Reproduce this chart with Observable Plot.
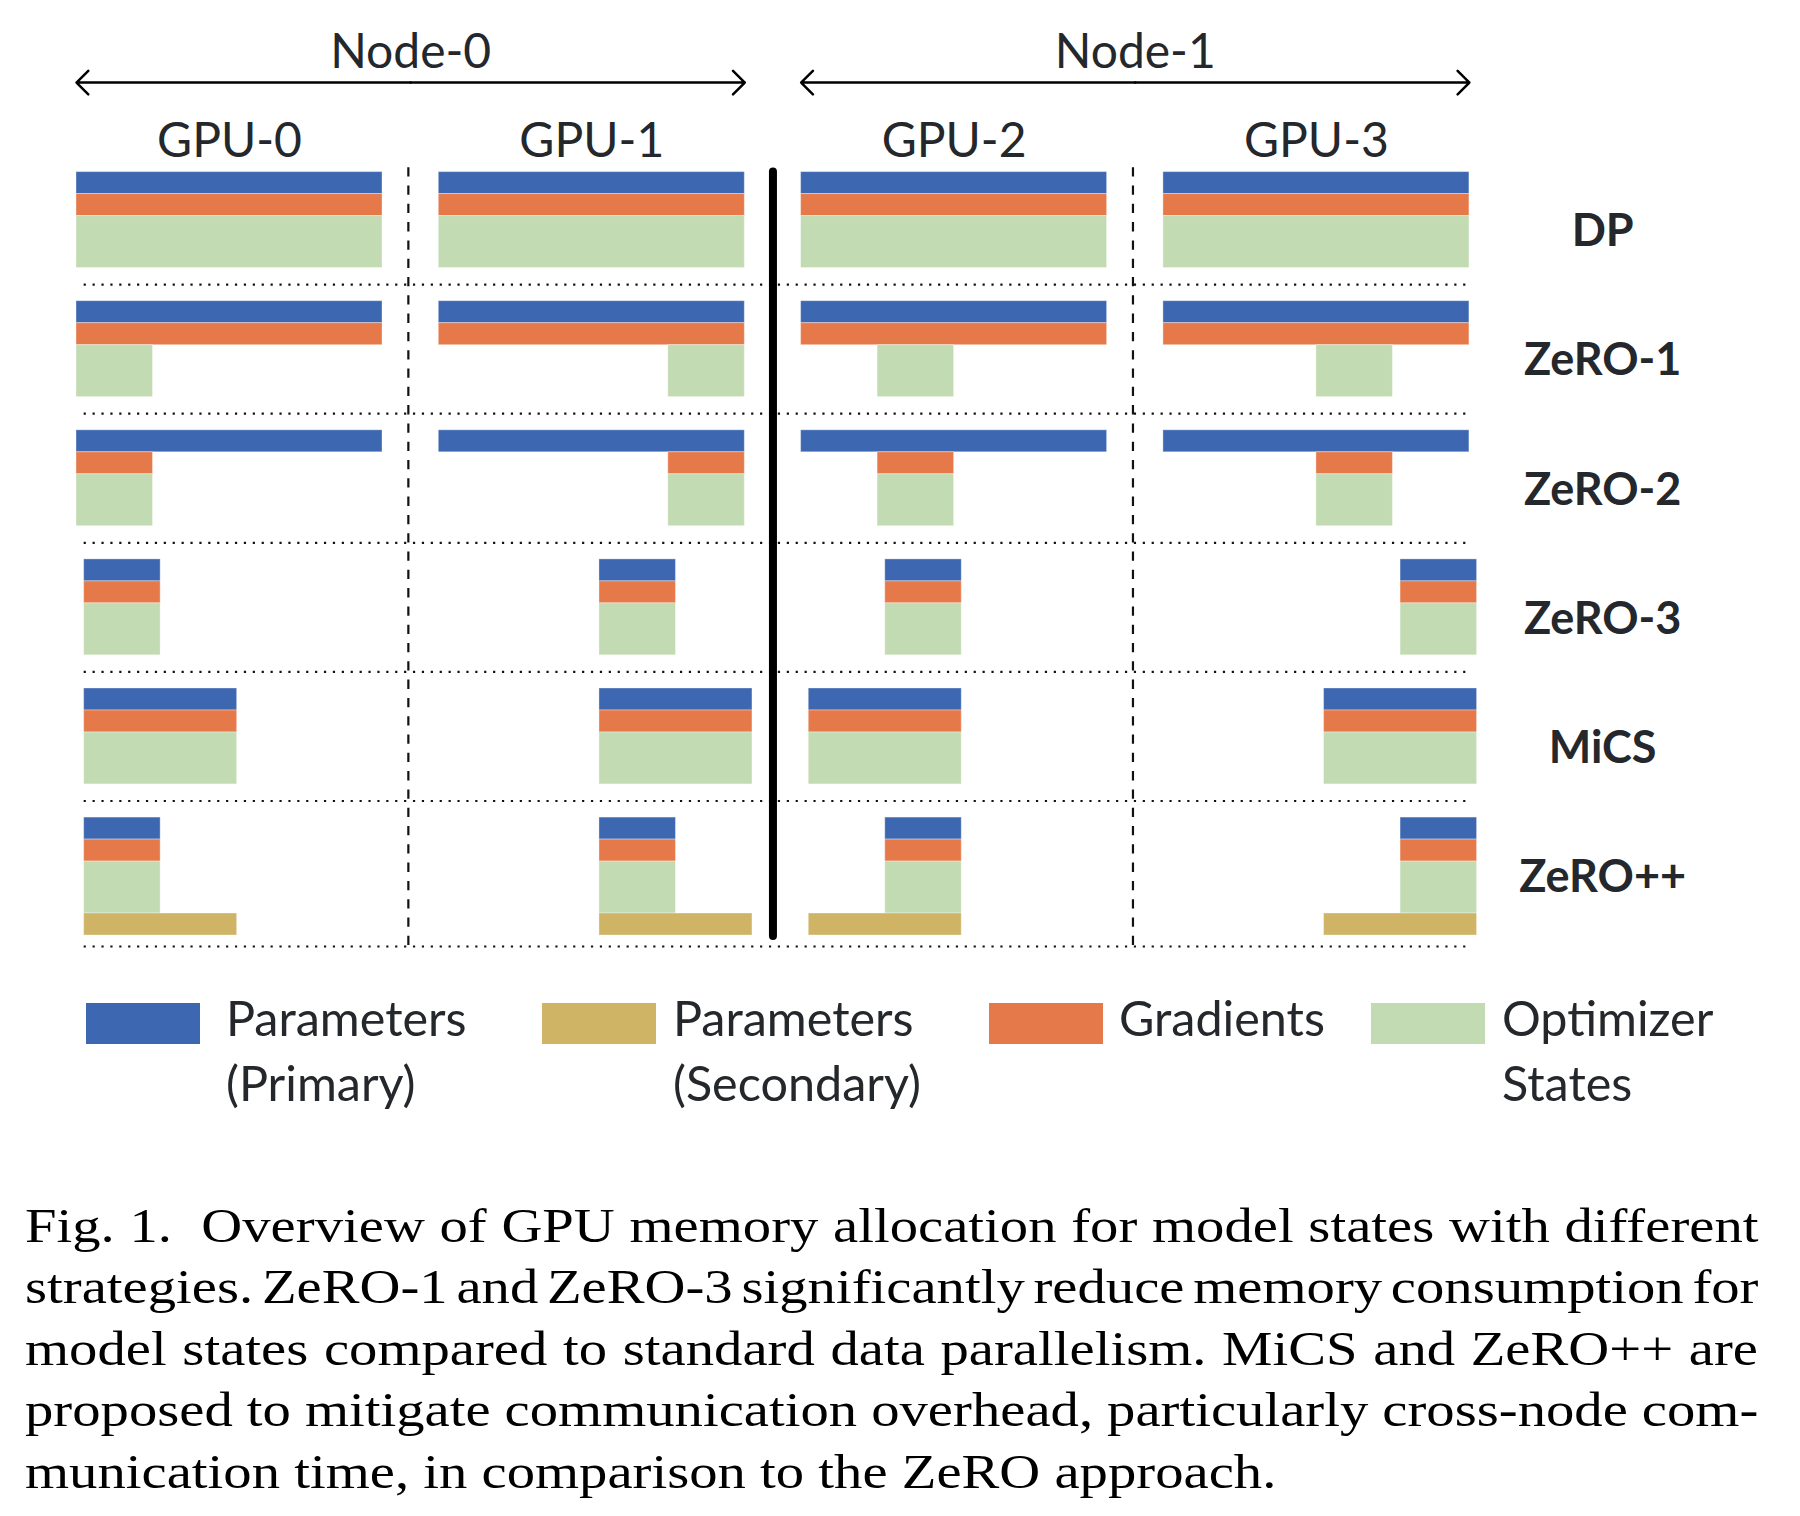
<!DOCTYPE html>
<html>
<head>
<meta charset="utf-8">
<script src="https://cdn.jsdelivr.net/npm/d3@7"></script>
<script src="https://cdn.jsdelivr.net/npm/@observablehq/plot@0.6"></script>
<style>
  html, body { margin: 0; padding: 0; background: #fff; }
  #wrap { position: relative; width: 1800px; height: 1516px; overflow: hidden; background: #fff; }
  #chart { position: absolute; left: 0; top: 0; }
  #legend { position: absolute; left: 0; top: 985px; width: 1800px; height: 140px;
            font-family: Lato, "Noto Sans", sans-serif; font-size: 48.5px; color: #24272b; }
  .sw { position: absolute; top: 18px; width: 114px; height: 41px; }
  .lab { position: absolute; top: 0; line-height: 65px; white-space: nowrap; }
  #caption { position: absolute; left: 25px; top: 1194.5px; width: 1514px;
             transform: scaleX(1.145); transform-origin: 0 0;
             font-family: "Liberation Serif", "Times New Roman", serif; font-size: 49.5px;
             line-height: 61.5px; color: #000; }
  #caption div { white-space: pre; }
  #caption span { display: inline-block; white-space: pre; }
</style>
</head>
<body>
<div id="wrap">
  <div id="chart"></div>
  <div id="legend"></div>
  <div id="caption"></div>
</div>
<script>
// ---------------- data ----------------
const gpus = ["GPU-0", "GPU-1", "GPU-2", "GPU-3"];
const gpuNode = [0, 0, 1, 1];
const nodes = ["Node-0", "Node-1"];
const strategies = ["DP", "ZeRO-1", "ZeRO-2", "ZeRO-3", "MiCS", "ZeRO++"];
const components = ["Parameters (Primary)", "Gradients", "Optimizer States", "Parameters (Secondary)"];
const componentColors = ["#3E67B1", "#E6794A", "#C2DBB2", "#CFB466"];
const componentSize = [1, 1, 2.36, 1]; // relative memory (bar thickness)

// shard held by each GPU: [start, end] in quarters of the full model (0–4), per strategy
const primaryParams = [
  [[0, 4], [0, 4], [0, 4], [0, 4]],                     // DP
  [[0, 4], [0, 4], [0, 4], [0, 4]],                     // ZeRO-1
  [[0, 4], [0, 4], [0, 4], [0, 4]],                     // ZeRO-2
  [[0.1, 1.1], [2.1, 3.1], [1.1, 2.1], [3.1, 4.1]],     // ZeRO-3
  [[0.1, 2.1], [2.1, 4.1], [0.1, 2.1], [2.1, 4.1]],     // MiCS
  [[0.1, 1.1], [2.1, 3.1], [1.1, 2.1], [3.1, 4.1]]      // ZeRO++
];
const gradients = [
  [[0, 4], [0, 4], [0, 4], [0, 4]],
  [[0, 4], [0, 4], [0, 4], [0, 4]],
  [[0, 1], [3, 4], [1, 2], [2, 3]],
  [[0.1, 1.1], [2.1, 3.1], [1.1, 2.1], [3.1, 4.1]],
  [[0.1, 2.1], [2.1, 4.1], [0.1, 2.1], [2.1, 4.1]],
  [[0.1, 1.1], [2.1, 3.1], [1.1, 2.1], [3.1, 4.1]]
];
const optimizerStates = [
  [[0, 4], [0, 4], [0, 4], [0, 4]],
  [[0, 1], [3, 4], [1, 2], [2, 3]],
  [[0, 1], [3, 4], [1, 2], [2, 3]],
  [[0.1, 1.1], [2.1, 3.1], [1.1, 2.1], [3.1, 4.1]],
  [[0.1, 2.1], [2.1, 4.1], [0.1, 2.1], [2.1, 4.1]],
  [[0.1, 1.1], [2.1, 3.1], [1.1, 2.1], [3.1, 4.1]]
];
const secondaryParams = [
  null, null, null, null, null,
  [[0.1, 2.1], [2.1, 4.1], [0.1, 2.1], [2.1, 4.1]]      // ZeRO++
];

const legendOrder = [0, 3, 1, 2];
const legendLines = [["Parameters", "(Primary)"], ["Parameters", "(Secondary)"], ["Gradients"], ["Optimizer", "States"]];
const captionLines = [
  "Fig. 1.\u00A0 Overview of GPU memory allocation for model states with different",
  "strategies. ZeRO-1 and ZeRO-3 significantly reduce memory consumption for",
  "model states compared to standard data parallelism. MiCS and ZeRO++ are",
  "proposed to mitigate communication overhead, particularly cross-node com-",
  "munication time, in comparison to the ZeRO approach."
];

// ---------------- layout ----------------
const GPU_STEP = 4.736;   // column pitch (model width 4 + gap)
const ROW_STEP = 5.868;   // row pitch in memory units
const spans = [primaryParams, gradients, optimizerStates, secondaryParams];
const offsets = componentSize.map((_, i) => d3.sum(componentSize.slice(0, i)));

const bars = [];
strategies.forEach((s, si) => {
  gpus.forEach((g, gi) => {
    components.forEach((c, ci) => {
      const row = spans[ci][si];
      if (!row) return;
      const [a, b] = row[gi];
      const y1 = si * ROW_STEP + offsets[ci];
      bars.push({strategy: s, gpu: g, component: c,
                 x1: gi * GPU_STEP + a, x2: gi * GPU_STEP + b,
                 y1, y2: y1 + componentSize[ci]});
    });
  });
});

const baseBottom = offsets[2] + componentSize[2];
const separators = strategies.map((s, si) => {
  const bottom = d3.max(bars.filter(d => d.strategy === s), d => d.y2) - si * ROW_STEP;
  return si * ROW_STEP + Math.max((ROW_STEP + baseBottom) / 2, bottom + 0.5);
});
const gridBottom = d3.max(separators);
const gap = GPU_STEP - 4;
const gpuDividers = gpus.map((g, i) => i).filter(i => i > 0 && gpuNode[i] === gpuNode[i - 1]).map(i => i * GPU_STEP - gap / 2 - 0.03);
const nodeDividers = gpus.map((g, i) => i).filter(i => i > 0 && gpuNode[i] !== gpuNode[i - 1]).map(i => i * GPU_STEP - gap / 2);

const nodeExtent = nodes.map((n, ni) => {
  const idx = gpus.map((g, i) => i).filter(i => gpuNode[i] === ni);
  return [d3.min(idx) * GPU_STEP, d3.max(idx) * GPU_STEP + 4];
});
const ARROW_Y = -4.07, NODE_Y = -5.41, GPU_Y = -1.364, ROW_LABEL_X = 19.95, ROW_LABEL_DY = 2.72;
const arrows = nodeExtent.flatMap(([a, b]) => [
  {x1: (a + b) / 2, x2: a}, {x1: (a + b) / 2, x2: b}
]);

const chart = Plot.plot({
  width: 1800,
  height: 975,
  margin: 0,
  x: {domain: [0, 1], range: [76, 152.5], axis: null},
  y: {domain: [0, 1], range: [171.6, 193.6], axis: null},
  color: {domain: components, range: componentColors},
  style: {fontFamily: "Lato, 'Noto Sans', sans-serif", color: "#24272b", background: "#fff", overflow: "visible"},
  marks: [
    Plot.rect(bars, {x1: "x1", x2: "x2", y1: "y1", y2: "y2", fill: "component",
                     stroke: "white", strokeOpacity: 0.35, strokeWidth: 1}),
    Plot.ruleY(separators, {y: d => d, x1: 0.1, x2: 18.2, stroke: "#111", strokeWidth: 2.2, strokeDasharray: "2.2,6.7"}),
    Plot.ruleX(gpuDividers, {x: d => d, y1: -0.2, y2: gridBottom, stroke: "#111", strokeWidth: 2.2, strokeDasharray: "9.3,9"}),
    Plot.ruleX(nodeDividers, {x: d => d, y1: 0, y2: gridBottom - 0.45, stroke: "#000", strokeWidth: 8, strokeLinecap: "round"}),
    Plot.arrow(arrows, {x1: "x1", x2: "x2", y1: ARROW_Y, y2: ARROW_Y, bend: 0, headAngle: 90, headLength: 10,
                        stroke: "#000", strokeWidth: 2.5}),
    Plot.text(nodes, {x: (d, i) => (nodeExtent[i][0] + nodeExtent[i][1]) / 2, y: NODE_Y, text: d => d,
                      fontSize: 48, fill: "#24272b"}),
    Plot.text(gpus, {x: (d, i) => i * GPU_STEP + 2, y: GPU_Y, text: d => d, fontSize: 48, fill: "#24272b"}),
    Plot.text(strategies, {x: ROW_LABEL_X, y: (d, i) => i * ROW_STEP + ROW_LABEL_DY, text: d => d,
                           fontSize: 45, fontWeight: 700, fill: "#24272b"})
  ]
});
document.getElementById("chart").appendChild(chart);

// ---------------- legend ----------------
const swatchLeft = [86, 542, 989, 1371];
const labelLeft = [226, 673, 1119, 1502];
const legend = d3.select("#legend");
legendOrder.forEach((ci, k) => {
  legend.append("div").attr("class", "sw")
    .style("left", swatchLeft[k] + "px").style("background", componentColors[ci]);
  legend.append("div").attr("class", "lab")
    .style("left", labelLeft[k] + "px")
    .html(legendLines[k].join("<br>"));
});

// ---------------- caption (justified lines, fitted by word spacing) ----------------
const CAPTION_WIDTH = 1514;
const cap = d3.select("#caption");
captionLines.forEach((t, i) => {
  const span = cap.append("div").append("span").text(t);
  if (i === captionLines.length - 1) return;
  const w = span.node().offsetWidth;
  const spaces = (t.match(/ /g) || []).length;
  if (spaces > 0) span.style("word-spacing", ((CAPTION_WIDTH - w) / spaces) + "px");
});
</script>
</body>
</html>
